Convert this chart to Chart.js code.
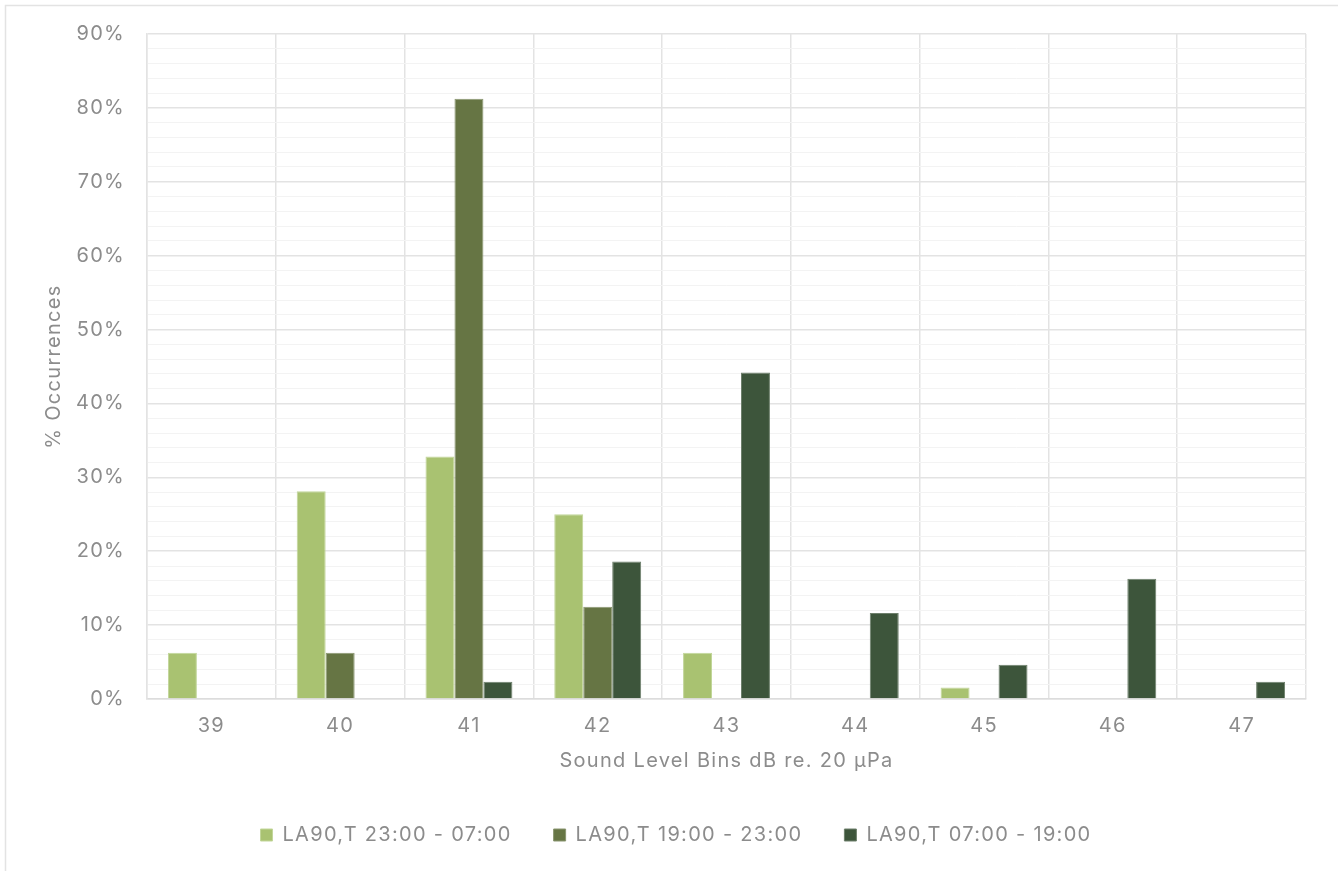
<!DOCTYPE html>
<html>
<head>
<meta charset="utf-8">
<script src="https://cdn.jsdelivr.net/npm/chart.js@4/dist/chart.umd.min.js"></script>
<style>
  html, body { margin: 0; padding: 0; background: #ffffff; }
  #wrap { position: relative; width: 1338px; height: 871px; }
</style>
</head>
<body>
<div id="wrap"><canvas id="chart" width="1338" height="871"></canvas></div>
<script>
// Sound level bins (dB re. 20 µPa)
const bins = ['39', '40', '41', '42', '43', '44', '45', '46', '47'];

// Percentage of occurrences per bin for each period
const night = [6.25, 28.13, 32.81, 25.0, 6.25, 0, 1.56, 0, 0];       // 23:00 - 07:00
const evening = [0, 6.25, 81.25, 12.5, 0, 0, 0, 0, 0];               // 19:00 - 23:00
const day = [0, 0, 2.33, 18.6, 44.19, 11.63, 4.65, 16.28, 2.33];     // 07:00 - 19:00

const seriesNames = ['LA90,T 23:00 - 07:00', 'LA90,T 19:00 - 23:00', 'LA90,T 07:00 - 19:00'];
const seriesColors = ['#a9c271', '#667544', '#3d553b'];
const seriesEdges = ['#c2d69a', '#8a9670', '#6e806c'];

const FONT = 'Inter, "Open Sans", sans-serif';
const FONT_SIZE = 20;
const TEXT = '#8c8c8c';
const TRACKING = '1.3px';

// Slightly open tracking for all text, applied before measuring and before drawing
const trackingPlugin = {
  id: 'tracking',
  beforeUpdate(chart) { chart.ctx.letterSpacing = TRACKING; },
  beforeDraw(chart) { chart.ctx.letterSpacing = TRACKING; }
};

// Centre the legend row under the plot area rather than the whole canvas
const legendShiftPlugin = {
  id: 'legendShift',
  afterLayout(chart) {
    const lg = chart.legend;
    if (lg) {
      lg.left += 23;
      lg.right += 23;
    }
  }
};

// Light frame around the whole figure
const framePlugin = {
  id: 'frame',
  beforeDraw(chart) {
    const ctx = chart.ctx;
    ctx.save();
    ctx.fillStyle = '#ffffff';
    ctx.fillRect(0, 0, chart.width, chart.height);
    ctx.strokeStyle = '#e3e3e3';
    ctx.lineWidth = 1.5;
    ctx.strokeRect(5.5, 5.5, chart.width - 3, chart.height + 10);
    ctx.restore();
  }
};

new Chart(document.getElementById('chart'), {
  type: 'bar',
  data: {
    labels: bins,
    datasets: [night, evening, day].map((vals, i) => ({
      label: seriesNames[i],
      data: vals,
      backgroundColor: seriesColors[i],
      borderColor: seriesEdges[i],
      borderWidth: 1,
      categoryPercentage: 0.675,
      barPercentage: 1.0
    }))
  },
  options: {
    responsive: false,
    animation: false,
    devicePixelRatio: 1,
    layout: { padding: { left: 0, right: 32, top: 34, bottom: 16 } },
    plugins: {
      tooltip: { enabled: false },
      legend: {
        position: 'bottom',
        labels: {
          boxWidth: 12,
          boxHeight: 12,
          padding: 42,
          color: TEXT,
          font: { family: FONT, size: FONT_SIZE }
        }
      }
    },
    scales: {
      x: {
        grid: {
          offset: true,
          color: '#e3e3e3',
          lineWidth: 1.5,
          drawTicks: false
        },
        border: { color: '#dcdcdc', width: 1.5 },
        ticks: {
          color: TEXT,
          padding: 15,
          font: { family: FONT, size: FONT_SIZE }
        },
        title: {
          display: true,
          text: 'Sound Level Bins dB re. 20 µPa',
          color: TEXT,
          padding: { top: 0, bottom: 10 },
          font: { family: FONT, size: FONT_SIZE }
        },
        afterFit(scale) { scale.height = 84; }
      },
      y: {
        min: 0,
        max: 90,
        grid: {
          color: ctx => (ctx.tick && ctx.tick.value % 10 === 0) ? '#e3e3e3' : '#f3f3f3',
          lineWidth: ctx => (ctx.tick && ctx.tick.value % 10 === 0) ? 1.5 : 1,
          drawTicks: false
        },
        border: { display: true, color: '#e3e3e3', width: 1.5 },
        ticks: {
          stepSize: 2,
          autoSkip: false,
          color: TEXT,
          padding: 22,
          font: { family: FONT, size: FONT_SIZE },
          callback: v => (v % 10 === 0) ? v + '%' : ''
        },
        title: {
          display: true,
          text: '% Occurrences',
          color: TEXT,
          padding: { top: 42, bottom: 0 },
          font: { family: FONT, size: FONT_SIZE }
        },
        afterFit(scale) { scale.width = 147; }
      }
    }
  },
  plugins: [trackingPlugin, legendShiftPlugin, framePlugin]
});
</script>
</body>
</html>
